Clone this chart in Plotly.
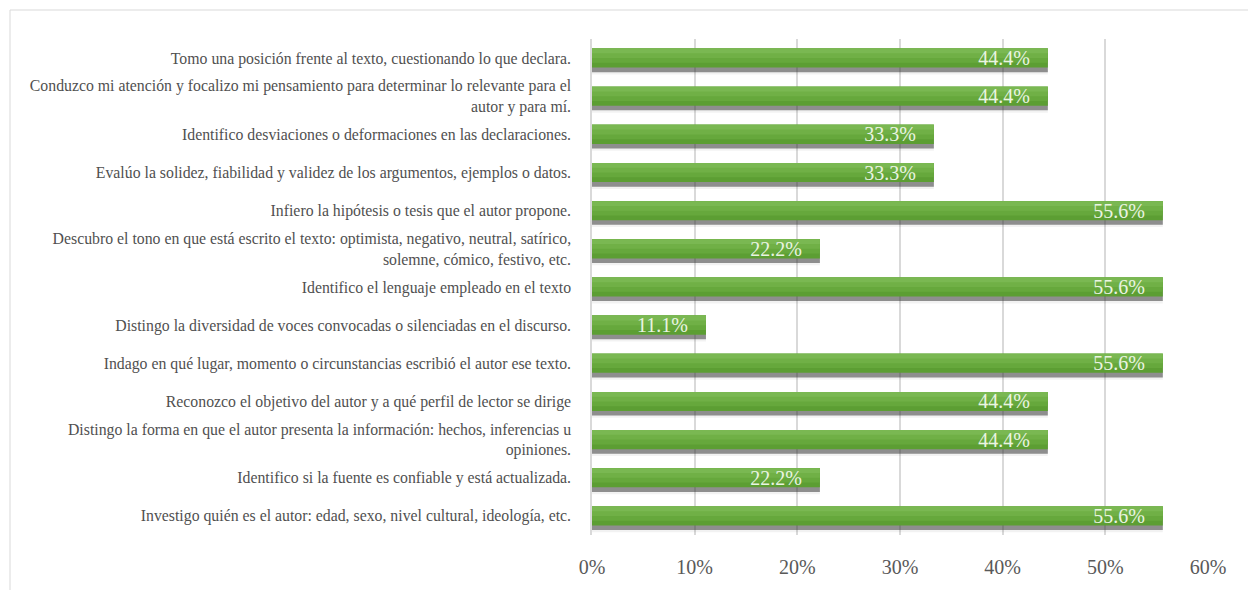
import plotly.graph_objects as go

# Survey statements (top to bottom) and share of respondents
statements = [
    "Tomo una posición frente al texto, cuestionando lo que declara.",
    "Conduzco mi atención y focalizo mi pensamiento para determinar lo relevante para el<br>autor y para mí.",
    "Identifico desviaciones o deformaciones en las declaraciones.",
    "Evalúo la solidez, fiabilidad y validez de los argumentos, ejemplos o datos.",
    "Infiero la hipótesis o tesis que el autor propone.",
    "Descubro el tono en que está escrito el texto: optimista, negativo, neutral, satírico,<br>solemne, cómico, festivo, etc.",
    "Identifico el lenguaje empleado en el texto",
    "Distingo la diversidad de voces convocadas o silenciadas en el discurso.",
    "Indago en qué lugar, momento o circunstancias escribió el autor ese texto.",
    "Reconozco el objetivo del autor y a qué perfil de lector se dirige",
    "Distingo la forma en que el autor presenta la información: hechos, inferencias u<br>opiniones.",
    "Identifico si la fuente es confiable y está actualizada.",
    "Investigo quién es el autor: edad, sexo, nivel cultural, ideología, etc.",
]
percentages = [44.4, 44.4, 33.3, 33.3, 55.6, 22.2, 55.6, 11.1, 55.6, 44.4, 44.4, 22.2, 55.6]
x_ticks = [0, 10, 20, 30, 40, 50, 60]
x_tick_labels = ["0%", "10%", "20%", "30%", "40%", "50%", "60%"]

SERIF = "Liberation Serif"
BAR_W = 0.5

fig = go.Figure()

# soft drop shadow beneath each bar
fig.add_trace(go.Bar(
    x=percentages, y=statements, orientation="h",
    width=BAR_W + 0.12, offset=-BAR_W / 2 + 0.06,
    marker=dict(color="rgba(0,0,0,0.05)", line_width=0),
    hoverinfo="skip",
))
fig.add_trace(go.Bar(
    x=percentages, y=statements, orientation="h",
    width=BAR_W, offset=-BAR_W / 2 + 0.12,
    marker=dict(color="rgba(60,60,60,0.55)", line_width=0),
    hoverinfo="skip",
))

# vertical gradient of the green bar, built from stacked bands (dark bottom -> light top)
bands = [
    (1.00, "#5c9e33"),
    (0.75, "#66a83c"),
    (0.50, "#70b046"),
    (0.25, "#7ab852"),
]
for frac, col in bands:
    fig.add_trace(go.Bar(
        x=percentages, y=statements, orientation="h",
        width=BAR_W * frac, offset=-BAR_W / 2,
        marker=dict(color=col, line_width=0),
        hoverinfo="skip",
    ))

# value labels placed inside the end of each bar
fig.add_trace(go.Bar(
    x=percentages, y=statements, orientation="h",
    width=BAR_W, offset=-BAR_W / 2,
    marker=dict(color="rgba(0,0,0,0)", line_width=0),
    texttemplate="%{x:.1f}%\u00a0\u00a0\u00a0",
    textposition="inside", insidetextanchor="end",
    textfont=dict(family=SERIF, size=20, color="#eaf4e2"),
    constraintext="none",
    hoverinfo="skip",
))

fig.update_layout(
    width=1248, height=590,
    margin=dict(l=592, r=40, t=39, b=55),
    paper_bgcolor="white", plot_bgcolor="white",
    barmode="overlay", showlegend=False,
    font=dict(family=SERIF, color="#595959"),
    xaxis=dict(
        range=[0, 60], tickvals=x_ticks, ticktext=x_tick_labels,
        showgrid=True, gridcolor="#d9d9d9", gridwidth=1.5,
        zeroline=False, showline=False,
        tickfont=dict(family=SERIF, size=20, color="#595959"),
        ticklabelstandoff=18, fixedrange=True,
    ),
    yaxis=dict(
        autorange="reversed", showgrid=False,
        showline=True, linecolor="#d9d9d9", linewidth=1.5,
        tickfont=dict(family=SERIF, size=15.8, color="#505050"),
        ticklabelstandoff=16, fixedrange=True,
    ),
    shapes=[dict(
        type="rect", xref="paper", yref="paper",
        x0=(10 - 592) / 616, x1=1.08, y0=-0.2, y1=1 + 29 / 496,
        line=dict(color="#d9d9d9", width=1), fillcolor="rgba(0,0,0,0)",
        layer="below",
    )],
)

fig.write_html("out.html")
